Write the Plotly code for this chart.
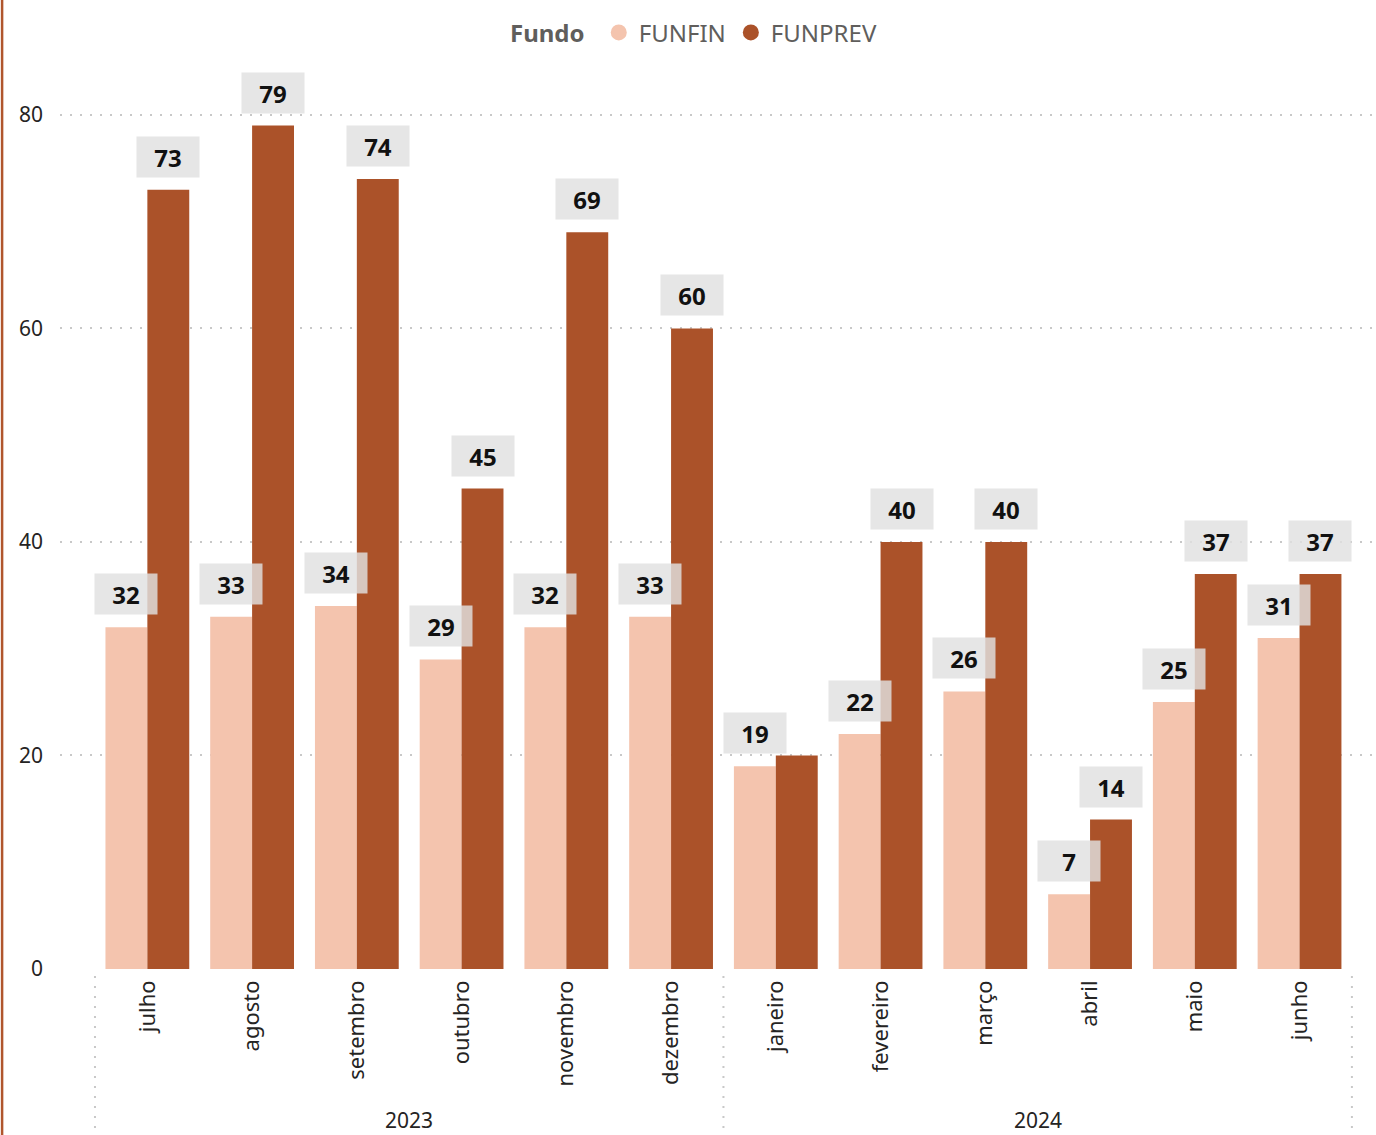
import plotly.graph_objects as go

# months (2023-07 .. 2024-06) and their year groups
months = ['julho', 'agosto', 'setembro', 'outubro', 'novembro', 'dezembro',
          'janeiro', 'fevereiro', 'março', 'abril', 'maio', 'junho']
years = ['2023', '2024']
months_per_year = [6, 6]

funfin = [32, 33, 34, 29, 32, 33, 19, 22, 26, 7, 25, 31]
funprev = [73, 79, 74, 45, 69, 60, 20, 40, 40, 14, 37, 37]

PINK = '#F4C4AE'
BROWN = '#AB5229'
FONT = 'Noto Sans'

fig = go.Figure()
fig.add_trace(go.Bar(x=months, y=funfin, name='FUNFIN', marker_color=PINK,
                     marker_line_width=0, showlegend=False))
fig.add_trace(go.Bar(x=months, y=funprev, name='FUNPREV', marker_color=BROWN,
                     marker_line_width=0, showlegend=False))

# legend entries drawn as circles (Power BI style)
for name, col in [('FUNFIN', PINK), ('FUNPREV', BROWN)]:
    fig.add_trace(go.Scatter(x=[None], y=[None], mode='markers', name=name,
                             marker=dict(symbol='circle', size=20, color=col)))

# data labels with grey box (Power BI hides a label that would collide)
for i, (a, b) in enumerate(zip(funfin, funprev)):
    labels = [(a, -0.2)]
    if b - a >= 3:
        labels.append((b, 0.2))
    for v, off in labels:
        fig.add_annotation(x=i + off, y=v, xref='x', yref='y', text=f'<b>{v}</b>',
                           showarrow=False, yanchor='bottom', yshift=12,
                           width=60, height=38, borderpad=1,
                           bgcolor='rgba(224,224,224,0.82)',
                           font=dict(family=FONT, size=24, color='#111111'))

# year group labels + dotted separators
start = 0
for yr, n in zip(years, months_per_year):
    fig.add_annotation(x=start + (n - 1) / 2, y=-0.171, xref='x', yref='paper',
                       text=yr, showarrow=False, yanchor='middle',
                       font=dict(family=FONT, size=21, color='#252423'))
    start += n
bounds = [-0.5]
acc = -0.5
for n in months_per_year:
    acc += n
    bounds.append(acc)
for b in bounds:
    fig.add_shape(type='line', x0=b, x1=b, xref='x', y0=-0.008, y1=-0.19, yref='paper',
                  line=dict(color='#C8C8C8', width=2, dash='2px,8px'))

# left border of the visual
fig.add_shape(type='line', x0=-0.044, x1=-0.044, xref='paper', y0=-0.2, y1=1.2, yref='paper',
              line=dict(color='#B0562D', width=2.5))

fig.update_layout(
    width=1376, height=1135,
    barmode='group', bargap=0.2, bargroupgap=0,
    plot_bgcolor='white', paper_bgcolor='white',
    margin=dict(l=60, r=0, t=85, b=166),
    font=dict(family=FONT, color='#252423'),
    legend=dict(orientation='h', x=0.4825, xanchor='center', y=1.059, yanchor='middle',
                title=dict(text='<b>Fundo</b> ', font=dict(size=24, color='#605E5C')),
                font=dict(size=24, color='#605E5C'), itemwidth=30,
                bgcolor='rgba(0,0,0,0)'),
)
fig.update_xaxes(type='category', range=[-0.834, 11.73], tickangle=-90,
                 tickfont=dict(size=22, color='#252423'), showgrid=False,
                 showline=False, ticks='', ticklabelstandoff=6)
fig.update_yaxes(range=[0, 82.8], tickvals=[0, 20, 40, 60, 80], showgrid=True,
                 gridcolor='#C8C8C8', griddash='2px,8px', gridwidth=2, zeroline=False,
                 showline=False, ticks='', tickfont=dict(size=21, color='#252423'),
                 ticklabelstandoff=16)

fig.write_html('out.html', config={'displayModeBar': False},
               post_script="document.body.style.margin='0';")
